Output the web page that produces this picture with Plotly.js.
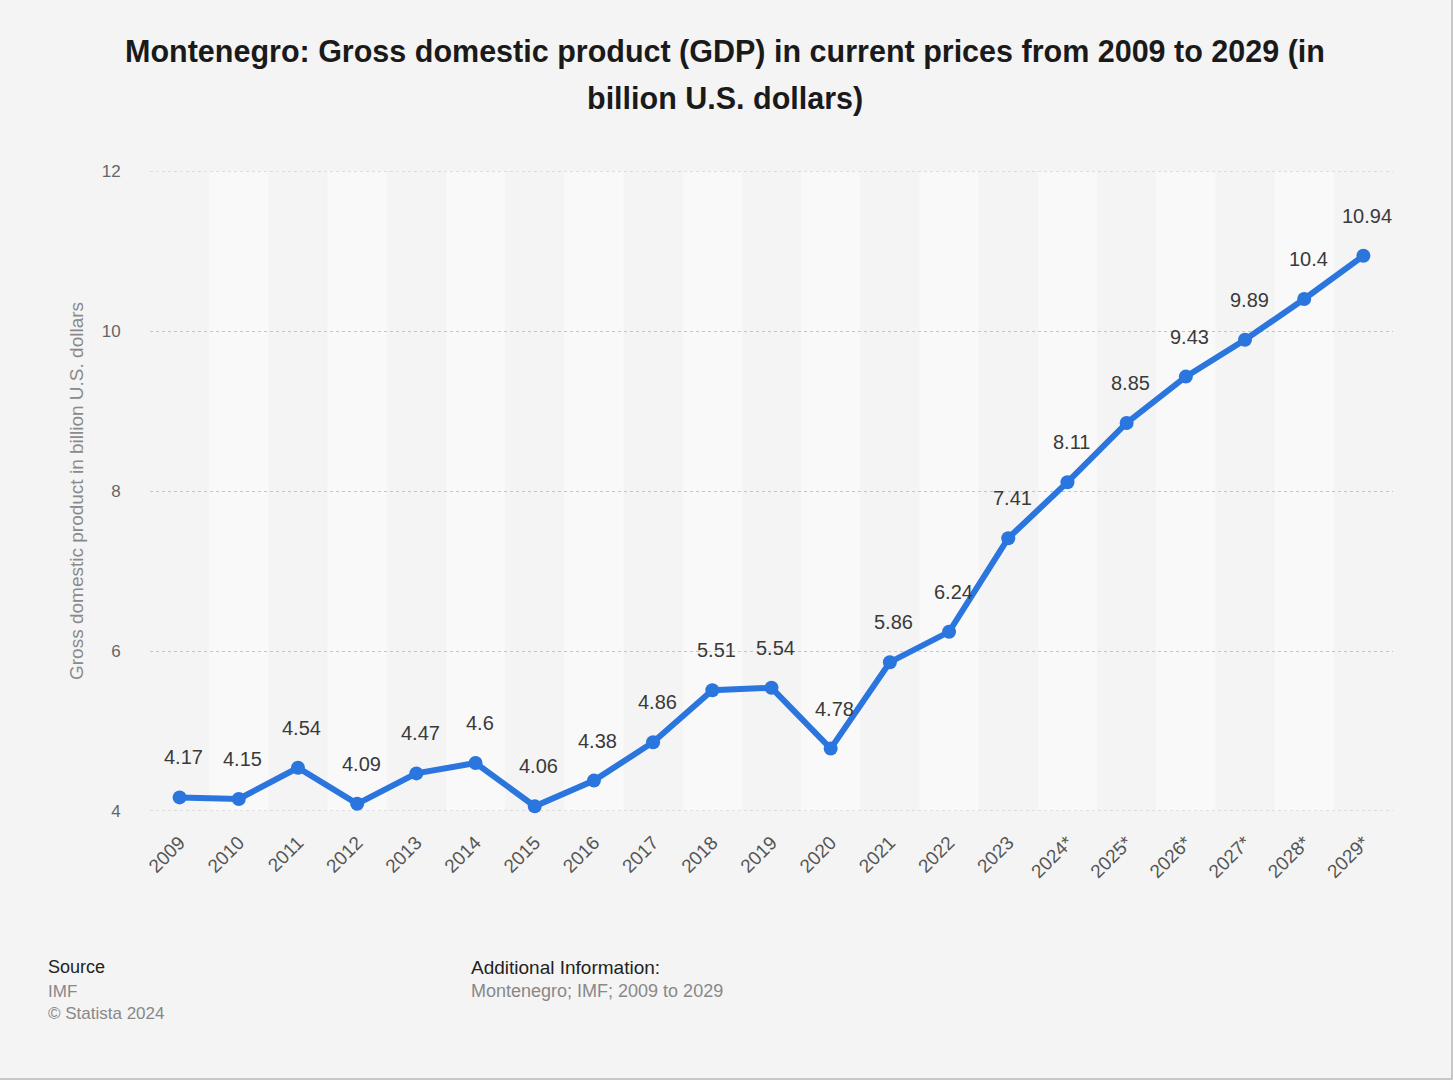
<!DOCTYPE html>
<html>
<head>
<meta charset="utf-8">
<script src="https://cdn.plot.ly/plotly-3.0.1.min.js"></script>
<style>
html,body{margin:0;padding:0;background:#f4f4f4;}
#chart{width:1453px;height:1080px;}
</style>
</head>
<body>
<div id="chart"></div>
<script>
const years = ["2009","2010","2011","2012","2013","2014","2015","2016","2017","2018","2019","2020","2021","2022","2023","2024*","2025*","2026*","2027*","2028*","2029*"];
const gdp = [4.17,4.15,4.54,4.09,4.47,4.6,4.06,4.38,4.86,5.51,5.54,4.78,5.86,6.24,7.41,8.11,8.85,9.43,9.89,10.4,10.94];
const yTicks = [4,6,8,10,12];

const W = 1453, H = 1080;
const L = 150, R = 1393, T = 171, B = 811;
const pw = R - L;
const FONT = 'Liberation Sans, Arial, Helvetica, sans-serif';

function px(x){return (x-L)/pw;}
function py(y){return (B-y)/(B-T);}

const shapes = [];
years.forEach((y, i) => {
  if (i % 2 === 1) {
    shapes.push({type:'rect', xref:'x', yref:'paper', x0:i-0.5, x1:i+0.5, y0:0, y1:1,
      fillcolor:'#f9f9f9', line:{width:0}, layer:'below'});
  }
});
// gridlines at range edges
[4, 12].forEach(v => {
  shapes.push({type:'line', xref:'paper', yref:'y', x0:0, x1:1, y0:v, y1:v,
    line:{color:'#c4c4c4', width:1, dash:'dot'}, layer:'below'});
});
// outer border right/bottom
shapes.push({type:'line', xref:'paper', yref:'paper', x0:px(W-1), x1:px(W-1), y0:py(H), y1:py(0), line:{color:'#c8c8c8', width:2}});
shapes.push({type:'line', xref:'paper', yref:'paper', x0:px(0), x1:px(W), y0:py(H-1), y1:py(H-1), line:{color:'#c8c8c8', width:2}});

const annotations = [
  {text:'<b>Montenegro: Gross domestic product (GDP) in current prices from 2009 to 2029 (in</b>', xref:'paper', yref:'paper', x:px(725), y:py(51), xanchor:'center', yanchor:'middle', showarrow:false, font:{family:FONT, size:30.5, color:'#1a1a1a'}},
  {text:'<b>billion U.S. dollars)</b>', xref:'paper', yref:'paper', x:px(725), y:py(98), xanchor:'center', yanchor:'middle', showarrow:false, font:{family:FONT, size:30.5, color:'#1a1a1a'}},
  {text:'Gross domestic product in billion U.S. dollars', xref:'paper', yref:'paper', x:px(76), y:py(491), textangle:-90, showarrow:false, font:{family:FONT, size:19, color:'#8a8a8a'}, xanchor:'center', yanchor:'middle'},
  {text:'Source', xref:'paper', yref:'paper', x:px(46), y:py(967), xanchor:'left', yanchor:'middle', showarrow:false, font:{family:FONT, size:18, color:'#222'}},
  {text:'IMF', xref:'paper', yref:'paper', x:px(46), y:py(991), xanchor:'left', yanchor:'middle', showarrow:false, font:{family:FONT, size:17, color:'#888'}},
  {text:'© Statista 2024', xref:'paper', yref:'paper', x:px(46), y:py(1013), xanchor:'left', yanchor:'middle', showarrow:false, font:{family:FONT, size:17, color:'#888'}},
  {text:'Additional Information:', xref:'paper', yref:'paper', x:px(469), y:py(967), xanchor:'left', yanchor:'middle', showarrow:false, font:{family:FONT, size:19, color:'#222'}},
  {text:'Montenegro; IMF; 2009 to 2029', xref:'paper', yref:'paper', x:px(469), y:py(991), xanchor:'left', yanchor:'middle', showarrow:false, font:{family:FONT, size:18, color:'#888'}}
];

// data labels above points
gdp.forEach((v, i) => {
  annotations.push({text:String(v), xref:'x', yref:'y', x:i, y:v, yshift:40, xshift:4,
    xanchor:'center', yanchor:'middle', showarrow:false,
    font:{family:FONT, size:20, color:'#3a3a3a'}});
});

const trace = {
  x: years.map((_, i) => i),
  y: gdp,
  type: 'scatter',
  mode: 'lines+markers',
  line: {color:'#2a75de', width:6},
  marker: {color:'#2a75de', size:14},
  cliponaxis: false,
  hoverinfo: 'x+y'
};

const layout = {
  width: W, height: H,
  paper_bgcolor: '#f4f4f4',
  plot_bgcolor: '#f4f4f4',
  margin: {l:L, r:W-R, t:T, b:H-B, pad:0},
  showlegend: false,
  xaxis: {
    range: [-0.5, years.length - 0.5],
    tickmode: 'array',
    tickvals: years.map((_, i) => i),
    ticktext: years,
    tickangle: -45,
    ticks: 'outside', ticklen: 12, tickcolor: 'rgba(0,0,0,0)',
    tickfont: {family:FONT, size:19, color:'#555'},
    showgrid: false, zeroline: false, showline: false,
    fixedrange: true
  },
  yaxis: {
    range: [4, 12],
    tickmode: 'array',
    tickvals: yTicks,
    ticktext: yTicks.map(String),
    ticks: 'outside', ticklen: 25, tickcolor: 'rgba(0,0,0,0)',
    tickfont: {family:FONT, size:17, color:'#666'},
    showgrid: true, gridcolor: '#c4c4c4', griddash: 'dot', gridwidth: 1,
    zeroline: false, showline: false,
    fixedrange: true
  },
  shapes: shapes,
  annotations: annotations
};

Plotly.newPlot('chart', [trace], layout, {displayModeBar:false, staticPlot:true});
</script>
</body>
</html>
